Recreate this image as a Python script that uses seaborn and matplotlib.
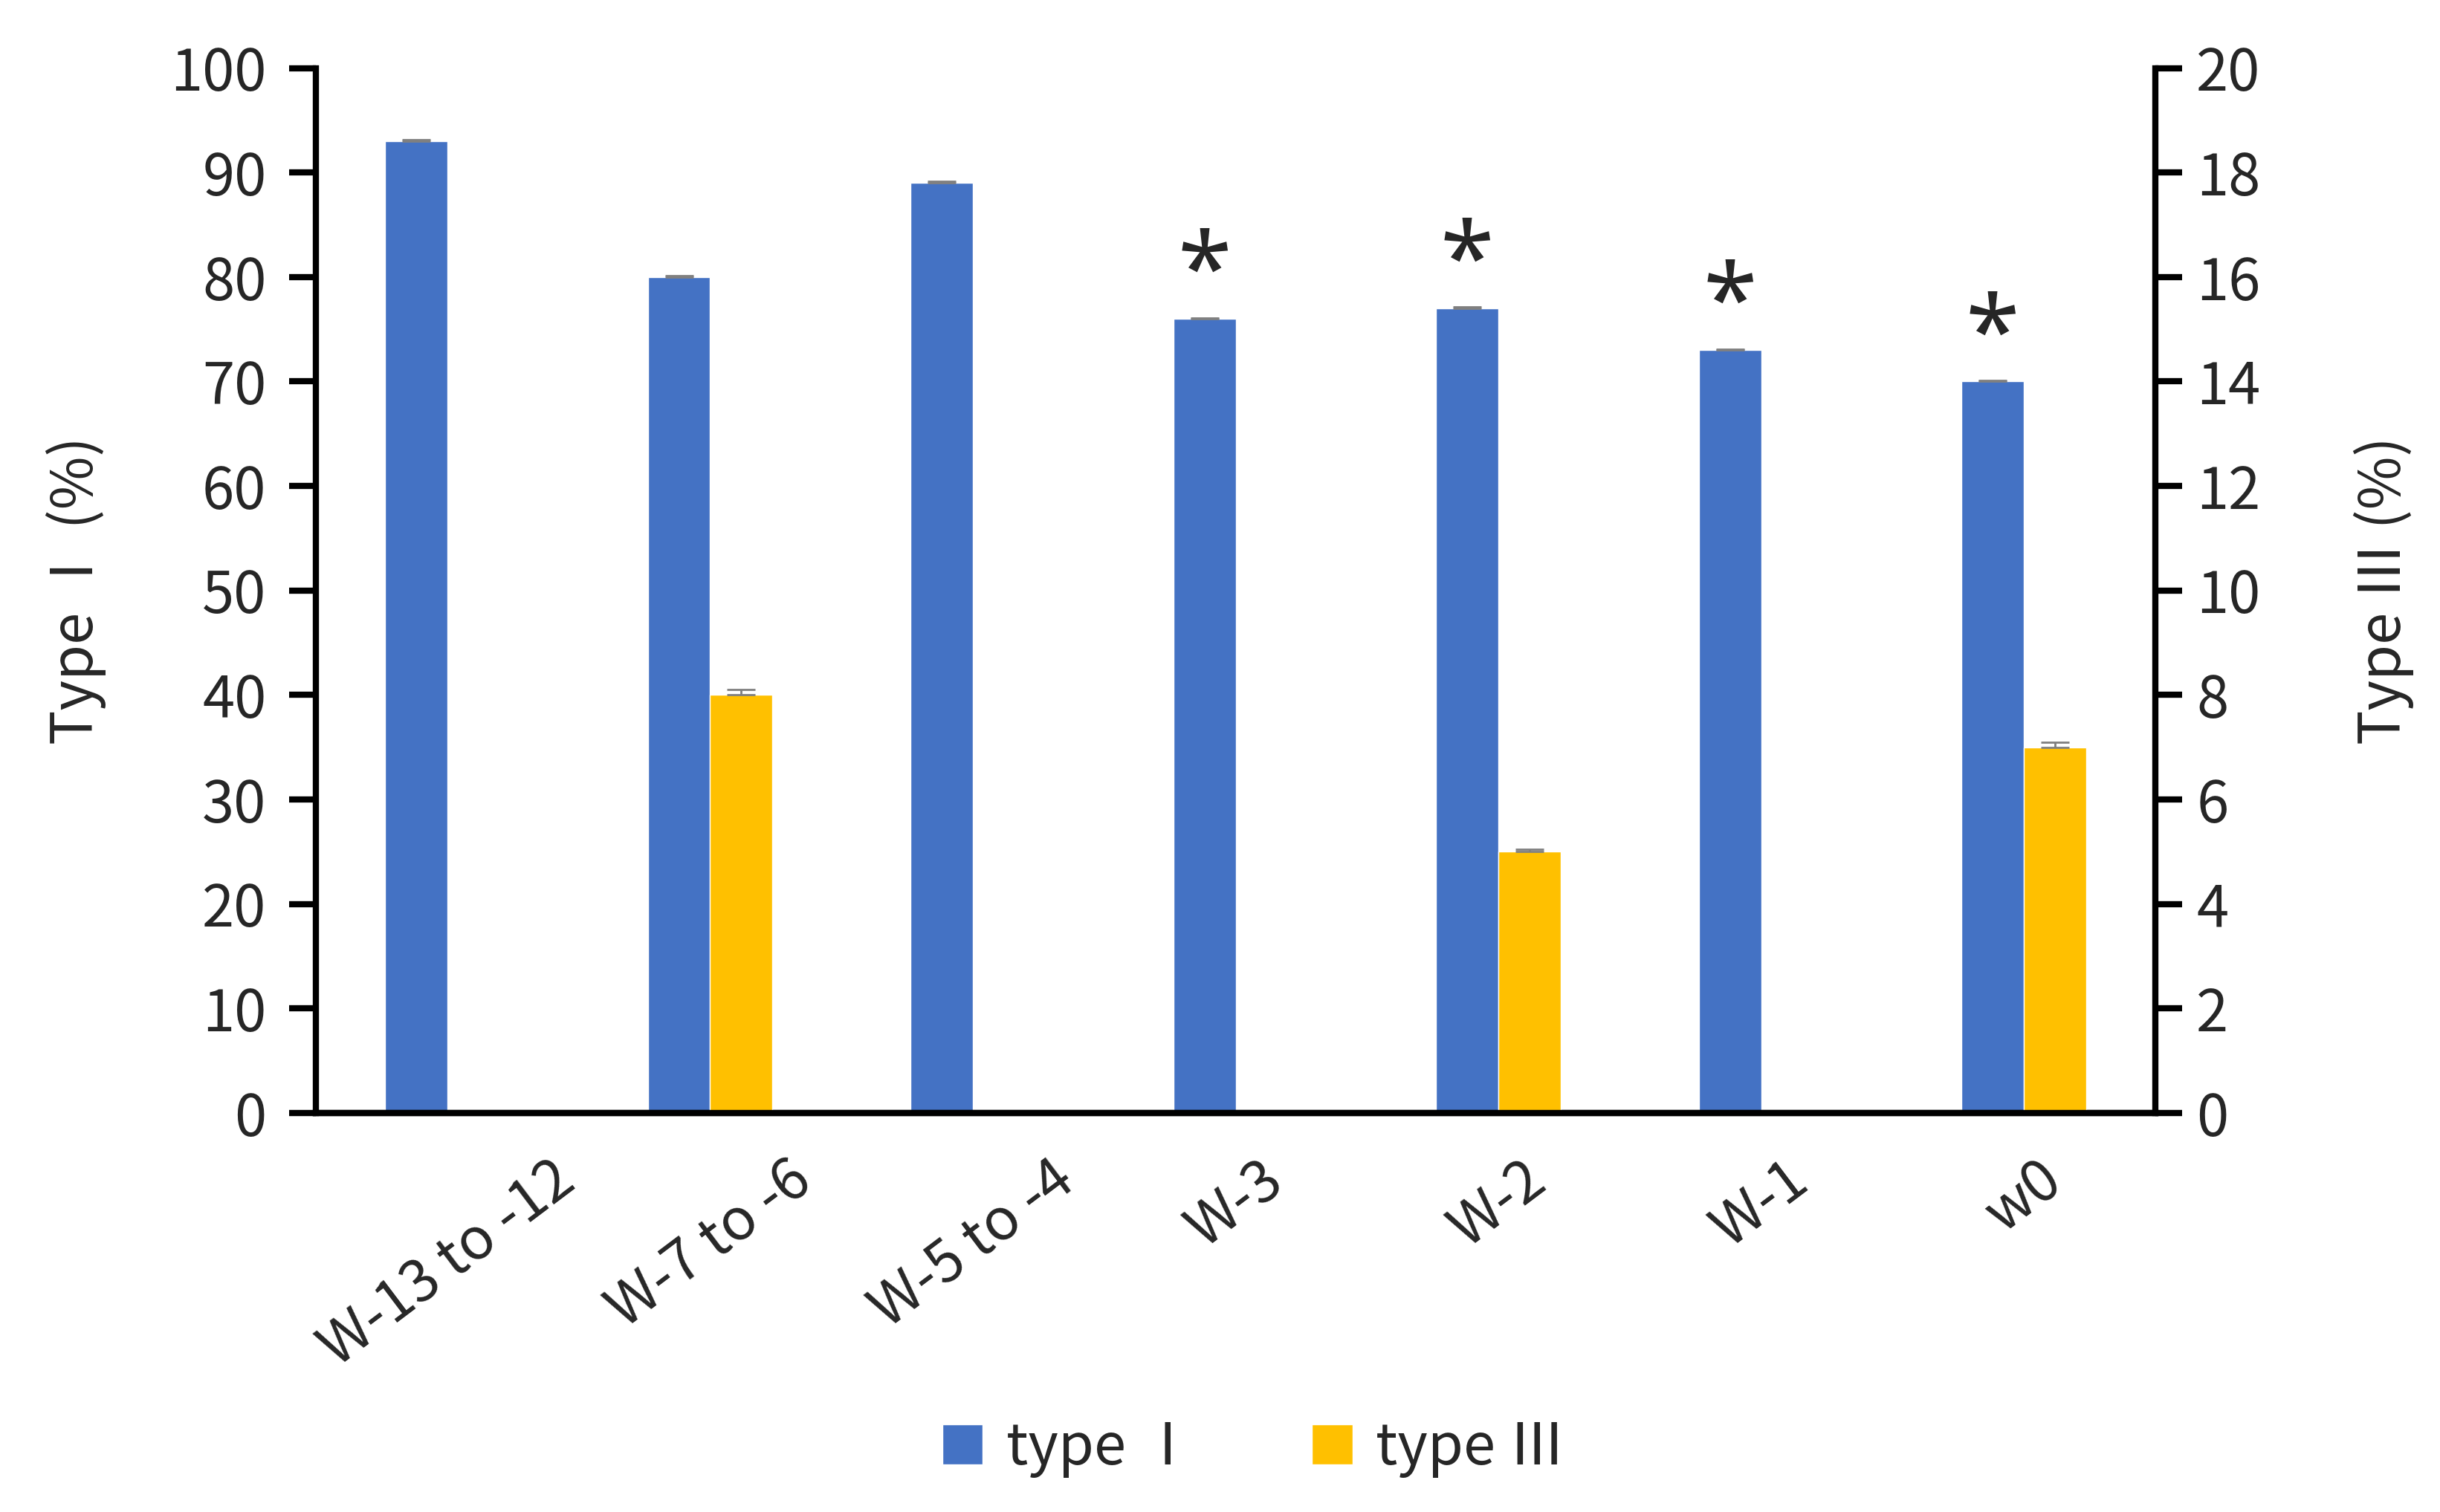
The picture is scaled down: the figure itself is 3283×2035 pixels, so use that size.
import seaborn as sns
import matplotlib.pyplot as plt
import matplotlib.patches as mpatches
import pandas as pd

weeks = ["W-13 to -12", "W-7 to -6", "W-5 to -4", "W-3", "W-2", "W-1", "w0"]
type1 = [93, 80, 89, 76, 77, 73, 70]
type1_err = [0.15, 0.15, 0.15, 0.1, 0.15, 0.1, 0.1]
type3 = [0, 8, 0, 0, 5, 0, 7]
type3_err = [0, 0.1, 0, 0, 0.05, 0, 0.1]
marked = [False, False, False, True, True, True, True]

levels = ["type Ⅰ", "type Ⅲ"]
colors = {"type Ⅰ": "#4472C4", "type Ⅲ": "#FFC000"}

sns.set_style("ticks")
plt.rcParams["font.family"] = ["Noto Sans CJK SC", "DejaVu Sans"]

df1 = pd.DataFrame({"week": weeks, "value": type1, "type": levels[0]})
df3 = pd.DataFrame({"week": weeks, "value": type3, "type": levels[1]})

fig = plt.figure(figsize=(32.83, 20.35), dpi=100)
ax1 = fig.add_axes([0.1295, 0.264, 0.7538, 0.691])
ax2 = ax1.twinx()

sns.barplot(data=df1, x="week", y="value", hue="type", hue_order=levels, order=weeks,
            palette=colors, width=0.474, dodge=True, errorbar=None, ax=ax1,
            legend=False, saturation=1)
sns.barplot(data=df3, x="week", y="value", hue="type", hue_order=levels, order=weeks,
            palette=colors, width=0.474, dodge=True, errorbar=None, ax=ax2,
            legend=False, saturation=1)

bars1 = sorted(ax1.patches, key=lambda p: p.get_x())
bars3 = sorted(ax2.patches, key=lambda p: p.get_x())

# error bars + significance stars
for bar, err, star in zip(bars1, type1_err, marked):
    cx = bar.get_x() + bar.get_width() / 2
    h = bar.get_height()
    ax1.errorbar(cx, h, yerr=[[0], [err]], color="#7f7f7f", capsize=14, capthick=2, lw=2)
    if star:
        ax1.text(cx, h + 4.0, "*", ha="center", va="center", fontsize=95,
                 family="Noto Sans", fontweight="light")

for bar, err in zip(bars3, type3_err):
    if bar.get_height() > 0:
        cx = bar.get_x() + bar.get_width() / 2
        ax2.errorbar(cx, bar.get_height(), yerr=[[0], [err]], color="#7f7f7f",
                     capsize=14, capthick=2, lw=2)

ax1.set_xlim(-0.5, len(weeks) - 0.5)
ax1.set_ylim(0, 100)
ax1.set_yticks(range(0, 101, 10))
ax2.set_ylim(0, 20)
ax2.set_yticks(range(0, 21, 2))

for ax in (ax1, ax2):
    ax.spines["top"].set_visible(False)
    for s in ax.spines.values():
        s.set_linewidth(6)
        s.set_color("black")
    ax.tick_params(axis="y", labelsize=56, length=26, width=6, color="black")
    ax.set_xlabel("")
ax1.tick_params(axis="y", pad=22)
ax2.tick_params(axis="y", pad=14)
ax2.spines["left"].set_visible(False)
ax1.spines["right"].set_visible(False)

ax1.tick_params(axis="x", length=0, pad=36)
ax1.set_xticks(range(len(weeks)))
ax1.set_xticklabels(weeks, rotation=37, ha="center", va="top", fontsize=56)

ax1.set_ylabel("Type Ⅰ (%)", fontsize=56, labelpad=62)
ax2.set_ylabel("Type Ⅲ (%)", fontsize=56, labelpad=90)

handles = [mpatches.Patch(facecolor=colors[l]) for l in levels]
fig.legend(handles, levels, loc="center", bbox_to_anchor=(0.514, 0.042), ncol=2,
           frameon=False, fontsize=56, handlelength=0.7, handleheight=0.7,
           columnspacing=2.0, handletextpad=0.4)

plt.savefig("out.png", dpi=100)
plt.close()
